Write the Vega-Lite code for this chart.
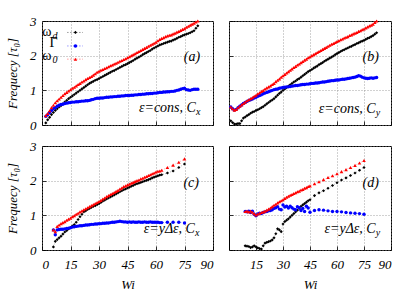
{
"$schema": "https://vega.github.io/schema/vega-lite/v6.json",
"background": "white",
"padding": {"left": 6, "top": 14, "right": 4, "bottom": 0},
"config": {
 "view": {"stroke": "black", "strokeWidth": 1},
 "font": "Liberation Serif",
 "concat": {"spacing": 14},
 "axis": {"domain": false, "grid": true, "gridColor": "#8c8c8c", "gridDash": [1, 2], "gridWidth": 0.8, "tickColor": "black", "tickSize": -4, "tickWidth": 0.8, "tickCount": 10, "format": "d", "labelOverlap": false, "labelFont": "Liberation Serif", "labelFontStyle": "italic", "labelFontSize": 13, "labelColor": "black", "titleFont": "Liberation Serif", "titleFontStyle": "italic", "titleFontWeight": "normal", "titleFontSize": 13, "titleColor": "black"},
 "text": {"font": "Liberation Serif", "color": "black"}
},
"datasets": {"pts": [
{"p":"a","x":2,"d":0.06,"g":0.25,"o":0.27},{"p":"a","x":3,"d":0.15,"g":0.3,"o":0.33},{"p":"a","x":4,"d":0.22,"g":0.36,"o":0.41},{"p":"a","x":5,"d":0.3,"g":0.42,"o":0.5},{"p":"a","x":6,"d":0.36,"g":0.47,"o":0.57},{"p":"a","x":7,"d":0.42,"g":0.5,"o":0.64},{"p":"a","x":8,"d":0.47,"g":0.54,"o":0.7},{"p":"a","x":9,"d":0.52,"g":0.57,"o":0.75},{"p":"a","x":10,"d":0.56,"g":0.59,"o":0.8},{"p":"a","x":11,"d":0.61,"g":0.6,"o":0.85},{"p":"a","x":12,"d":0.66,"g":0.62,"o":0.9},{"p":"a","x":13,"d":0.71,"g":0.63,"o":0.94},{"p":"a","x":14,"d":0.76,"g":0.64,"o":0.98},{"p":"a","x":15,"d":0.8,"g":0.65,"o":1.02},{"p":"a","x":16,"d":0.84,"g":0.66,"o":1.06},{"p":"a","x":17,"d":0.88,"g":0.66,"o":1.09},{"p":"a","x":18,"d":0.92,"g":0.67,"o":1.13},{"p":"a","x":19,"d":0.96,"g":0.67,"o":1.17},{"p":"a","x":20,"d":1.0,"g":0.68,"o":1.2},{"p":"a","x":21,"d":1.04,"g":0.69,"o":1.24},{"p":"a","x":22,"d":1.08,"g":0.69,"o":1.27},{"p":"a","x":23,"d":1.12,"g":0.7,"o":1.31},{"p":"a","x":24,"d":1.16,"g":0.7,"o":1.34},{"p":"a","x":25,"d":1.2,"g":0.71,"o":1.37},{"p":"a","x":26,"d":1.23,"g":0.73,"o":1.4},{"p":"a","x":27,"d":1.26,"g":0.74,"o":1.44},{"p":"a","x":28,"d":1.29,"g":0.76,"o":1.48},{"p":"a","x":29,"d":1.31,"g":0.77,"o":1.52},{"p":"a","x":30,"d":1.34,"g":0.77,"o":1.55},{"p":"a","x":31,"d":1.37,"g":0.78,"o":1.58},{"p":"a","x":32,"d":1.4,"g":0.78,"o":1.6},{"p":"a","x":33,"d":1.43,"g":0.79,"o":1.63},{"p":"a","x":34,"d":1.46,"g":0.8,"o":1.65},{"p":"a","x":35,"d":1.49,"g":0.8,"o":1.68},{"p":"a","x":36,"d":1.52,"g":0.81,"o":1.71},{"p":"a","x":37,"d":1.55,"g":0.81,"o":1.73},{"p":"a","x":38,"d":1.57,"g":0.82,"o":1.76},{"p":"a","x":39,"d":1.6,"g":0.82,"o":1.78},{"p":"a","x":40,"d":1.63,"g":0.83,"o":1.81},{"p":"a","x":41,"d":1.66,"g":0.83,"o":1.84},{"p":"a","x":42,"d":1.69,"g":0.84,"o":1.86},{"p":"a","x":43,"d":1.72,"g":0.84,"o":1.89},{"p":"a","x":44,"d":1.74,"g":0.85,"o":1.91},{"p":"a","x":45,"d":1.77,"g":0.85,"o":1.94},{"p":"a","x":46,"d":1.8,"g":0.85,"o":1.97},{"p":"a","x":47,"d":1.83,"g":0.86,"o":2.0},{"p":"a","x":48,"d":1.86,"g":0.86,"o":2.03},{"p":"a","x":49,"d":1.9,"g":0.87,"o":2.06},{"p":"a","x":50,"d":1.93,"g":0.87,"o":2.09},{"p":"a","x":51,"d":1.96,"g":0.88,"o":2.12},{"p":"a","x":52,"d":1.99,"g":0.88,"o":2.15},{"p":"a","x":53,"d":2.03,"g":0.89,"o":2.18},{"p":"a","x":54,"d":2.06,"g":0.89,"o":2.21},{"p":"a","x":55,"d":2.09,"g":0.9,"o":2.24},{"p":"a","x":56,"d":2.12,"g":0.9,"o":2.27},{"p":"a","x":57,"d":2.15,"g":0.91,"o":2.3},{"p":"a","x":58,"d":2.19,"g":0.91,"o":2.33},{"p":"a","x":59,"d":2.22,"g":0.92,"o":2.36},{"p":"a","x":60,"d":2.25,"g":0.92,"o":2.39},{"p":"a","x":61,"d":2.28,"g":0.93,"o":2.43},{"p":"a","x":62,"d":2.31,"g":0.94,"o":2.47},{"p":"a","x":63,"d":2.33,"g":0.94,"o":2.5},{"p":"a","x":64,"d":2.35,"g":0.95,"o":2.52},{"p":"a","x":65,"d":2.37,"g":0.95,"o":2.55},{"p":"a","x":66,"d":2.39,"g":0.96,"o":2.57},{"p":"a","x":67,"d":2.41,"g":0.96,"o":2.59},{"p":"a","x":68,"d":2.42,"g":0.97,"o":2.6},{"p":"a","x":69,"d":2.45,"g":0.97,"o":2.63},{"p":"a","x":70,"d":2.47,"g":0.98,"o":2.65},{"p":"a","x":71,"d":2.5,"g":1.0,"o":2.68},{"p":"a","x":72,"d":2.53,"g":1.01,"o":2.7},{"p":"a","x":73,"d":2.55,"g":1.03,"o":2.73},{"p":"a","x":74,"d":2.58,"g":1.05,"o":2.76},{"p":"a","x":75,"d":2.6,"g":1.06,"o":2.78},{"p":"a","x":76,"d":2.62,"g":1.02,"o":2.82},{"p":"a","x":77,"d":2.64,"g":1.01,"o":2.85},{"p":"a","x":78,"d":2.66,"g":1.0,"o":2.88},{"p":"a","x":79,"d":2.69,"g":1.02,"o":2.91},{"p":"a","x":80,"d":2.72,"g":1.03,"o":2.94},{"p":"a","x":81,"d":2.79,"g":1.03,"o":2.97},{"p":"a","x":82,"d":2.86,"g":1.03,"o":3.0},
{"p":"b","x":1,"d":0.12,"g":0.52,"o":0.52},{"p":"b","x":2,"d":0.07,"g":0.47,"o":0.47},{"p":"b","x":3,"d":0.03,"g":0.43,"o":0.43},{"p":"b","x":4,"d":0.03,"g":0.45,"o":0.45},{"p":"b","x":5,"d":0.04,"g":0.5,"o":0.5},{"p":"b","x":6,"d":0.04,"g":0.54,"o":0.54},{"p":"b","x":7,"d":0.12,"g":0.58,"o":0.58},{"p":"b","x":8,"d":0.2,"g":0.62,"o":0.62},{"p":"b","x":9,"d":0.23,"g":0.65,"o":0.66},{"p":"b","x":10,"d":0.27,"g":0.68,"o":0.7},{"p":"b","x":11,"d":0.3,"g":0.71,"o":0.73},{"p":"b","x":12,"d":0.34,"g":0.73,"o":0.76},{"p":"b","x":13,"d":0.37,"g":0.75,"o":0.79},{"p":"b","x":14,"d":0.39,"g":0.78,"o":0.83},{"p":"b","x":15,"d":0.42,"g":0.8,"o":0.86},{"p":"b","x":16,"d":0.44,"g":0.83,"o":0.9},{"p":"b","x":17,"d":0.47,"g":0.85,"o":0.93},{"p":"b","x":18,"d":0.5,"g":0.87,"o":0.97},{"p":"b","x":19,"d":0.53,"g":0.9,"o":1.0},{"p":"b","x":20,"d":0.57,"g":0.92,"o":1.04},{"p":"b","x":21,"d":0.61,"g":0.94,"o":1.07},{"p":"b","x":22,"d":0.65,"g":0.96,"o":1.1},{"p":"b","x":23,"d":0.69,"g":0.98,"o":1.13},{"p":"b","x":24,"d":0.72,"g":1.0,"o":1.17},{"p":"b","x":25,"d":0.76,"g":1.02,"o":1.2},{"p":"b","x":26,"d":0.81,"g":1.03,"o":1.25},{"p":"b","x":27,"d":0.86,"g":1.04,"o":1.29},{"p":"b","x":28,"d":0.91,"g":1.06,"o":1.33},{"p":"b","x":29,"d":0.95,"g":1.07,"o":1.38},{"p":"b","x":30,"d":1.0,"g":1.08,"o":1.42},{"p":"b","x":31,"d":1.04,"g":1.09,"o":1.46},{"p":"b","x":32,"d":1.08,"g":1.1,"o":1.5},{"p":"b","x":33,"d":1.12,"g":1.1,"o":1.54},{"p":"b","x":34,"d":1.16,"g":1.11,"o":1.58},{"p":"b","x":35,"d":1.2,"g":1.12,"o":1.62},{"p":"b","x":36,"d":1.24,"g":1.13,"o":1.66},{"p":"b","x":37,"d":1.27,"g":1.14,"o":1.69},{"p":"b","x":38,"d":1.31,"g":1.14,"o":1.73},{"p":"b","x":39,"d":1.34,"g":1.15,"o":1.76},{"p":"b","x":40,"d":1.38,"g":1.16,"o":1.8},{"p":"b","x":41,"d":1.42,"g":1.17,"o":1.83},{"p":"b","x":42,"d":1.46,"g":1.17,"o":1.87},{"p":"b","x":43,"d":1.5,"g":1.18,"o":1.9},{"p":"b","x":44,"d":1.54,"g":1.18,"o":1.94},{"p":"b","x":45,"d":1.57,"g":1.19,"o":1.97},{"p":"b","x":46,"d":1.6,"g":1.2,"o":2.0},{"p":"b","x":47,"d":1.64,"g":1.2,"o":2.03},{"p":"b","x":48,"d":1.67,"g":1.21,"o":2.06},{"p":"b","x":49,"d":1.7,"g":1.21,"o":2.09},{"p":"b","x":50,"d":1.74,"g":1.22,"o":2.12},{"p":"b","x":51,"d":1.77,"g":1.23,"o":2.15},{"p":"b","x":52,"d":1.8,"g":1.24,"o":2.18},{"p":"b","x":53,"d":1.84,"g":1.24,"o":2.21},{"p":"b","x":54,"d":1.87,"g":1.25,"o":2.24},{"p":"b","x":55,"d":1.9,"g":1.26,"o":2.27},{"p":"b","x":56,"d":1.93,"g":1.27,"o":2.3},{"p":"b","x":57,"d":1.96,"g":1.28,"o":2.33},{"p":"b","x":58,"d":1.99,"g":1.28,"o":2.35},{"p":"b","x":59,"d":2.03,"g":1.29,"o":2.38},{"p":"b","x":60,"d":2.06,"g":1.3,"o":2.41},{"p":"b","x":61,"d":2.09,"g":1.3,"o":2.43},{"p":"b","x":62,"d":2.12,"g":1.31,"o":2.46},{"p":"b","x":63,"d":2.15,"g":1.32,"o":2.48},{"p":"b","x":64,"d":2.17,"g":1.32,"o":2.51},{"p":"b","x":65,"d":2.2,"g":1.33,"o":2.53},{"p":"b","x":66,"d":2.22,"g":1.34,"o":2.55},{"p":"b","x":67,"d":2.25,"g":1.35,"o":2.58},{"p":"b","x":68,"d":2.27,"g":1.36,"o":2.6},{"p":"b","x":69,"d":2.3,"g":1.37,"o":2.63},{"p":"b","x":70,"d":2.32,"g":1.38,"o":2.65},{"p":"b","x":71,"d":2.35,"g":1.4,"o":2.67},{"p":"b","x":72,"d":2.37,"g":1.42,"o":2.7},{"p":"b","x":73,"d":2.4,"g":1.41,"o":2.72},{"p":"b","x":74,"d":2.42,"g":1.38,"o":2.75},{"p":"b","x":75,"d":2.44,"g":1.36,"o":2.77},{"p":"b","x":76,"d":2.47,"g":1.35,"o":2.8},{"p":"b","x":77,"d":2.5,"g":1.34,"o":2.83},{"p":"b","x":78,"d":2.52,"g":1.35,"o":2.86},{"p":"b","x":79,"d":2.55,"g":1.36,"o":2.88},{"p":"b","x":80,"d":2.58,"g":1.35,"o":2.91},{"p":"b","x":81,"d":2.62,"g":1.36,"o":2.96},{"p":"b","x":82,"d":2.66,"g":1.37,"o":3.0},
{"p":"c","x":6,"d":0.09,"g":0.58,"o":0.58},{"p":"c","x":7,"d":0.25,"g":0.44,"o":0.53},{"p":"c","x":8,"d":0.3,"g":0.58,"o":0.68},{"p":"c","x":9,"d":0.35,"g":0.59,"o":0.72},{"p":"c","x":10,"d":0.4,"g":0.6,"o":0.76},{"p":"c","x":11,"d":0.46,"g":0.6,"o":0.79},{"p":"c","x":12,"d":0.52,"g":0.61,"o":0.82},{"p":"c","x":13,"d":0.56,"g":0.62,"o":0.86},{"p":"c","x":14,"d":0.61,"g":0.63,"o":0.89},{"p":"c","x":15,"d":0.65,"g":0.64,"o":0.92},{"p":"c","x":16,"d":0.69,"g":0.66,"o":0.96},{"p":"c","x":17,"d":0.73,"g":0.67,"o":0.99},{"p":"c","x":18,"d":0.8,"g":0.68,"o":1.03},{"p":"c","x":19,"d":0.88,"g":0.69,"o":1.06},{"p":"c","x":20,"d":0.96,"g":0.7,"o":1.1},{"p":"c","x":21,"d":1.03,"g":0.7,"o":1.13},{"p":"c","x":22,"d":1.1,"g":0.71,"o":1.16},{"p":"c","x":23,"d":1.13,"g":0.72,"o":1.19},{"p":"c","x":24,"d":1.17,"g":0.72,"o":1.22},{"p":"c","x":25,"d":1.2,"g":0.73,"o":1.25},{"p":"c","x":26,"d":1.23,"g":0.74,"o":1.28},{"p":"c","x":27,"d":1.26,"g":0.74,"o":1.31},{"p":"c","x":28,"d":1.28,"g":0.75,"o":1.34},{"p":"c","x":29,"d":1.31,"g":0.75,"o":1.37},{"p":"c","x":30,"d":1.34,"g":0.76,"o":1.4},{"p":"c","x":31,"d":1.37,"g":0.76,"o":1.43},{"p":"c","x":32,"d":1.41,"g":0.77,"o":1.47},{"p":"c","x":33,"d":1.44,"g":0.77,"o":1.5},{"p":"c","x":34,"d":1.47,"g":0.78,"o":1.54},{"p":"c","x":35,"d":1.5,"g":0.78,"o":1.57},{"p":"c","x":36,"d":1.53,"g":0.79,"o":1.6},{"p":"c","x":37,"d":1.56,"g":0.8,"o":1.63},{"p":"c","x":38,"d":1.59,"g":0.8,"o":1.66},{"p":"c","x":39,"d":1.62,"g":0.81,"o":1.69},{"p":"c","x":40,"d":1.65,"g":0.82,"o":1.72},{"p":"c","x":41,"d":1.68,"g":0.83,"o":1.76},{"p":"c","x":42,"d":1.71,"g":0.82,"o":1.79},{"p":"c","x":43,"d":1.74,"g":0.81,"o":1.83},{"p":"c","x":44,"d":1.76,"g":0.81,"o":1.85},{"p":"c","x":45,"d":1.79,"g":0.8,"o":1.88},{"p":"c","x":46,"d":1.81,"g":0.81,"o":1.9},{"p":"c","x":47,"d":1.84,"g":0.8,"o":1.93},{"p":"c","x":48,"d":1.86,"g":0.81,"o":1.95},{"p":"c","x":49,"d":1.89,"g":0.8,"o":1.98},{"p":"c","x":50,"d":1.91,"g":0.8,"o":2.0},{"p":"c","x":51,"d":1.93,"g":0.81,"o":2.02},{"p":"c","x":52,"d":1.95,"g":0.8,"o":2.05},{"p":"c","x":53,"d":1.97,"g":0.8,"o":2.07},{"p":"c","x":54,"d":1.99,"g":0.81,"o":2.1},{"p":"c","x":55,"d":2.01,"g":0.8,"o":2.12},{"p":"c","x":56,"d":2.03,"g":0.8,"o":2.15},{"p":"c","x":57,"d":2.05,"g":0.81,"o":2.17},{"p":"c","x":58,"d":2.08,"g":0.8,"o":2.2},{"p":"c","x":59,"d":2.1,"g":0.8,"o":2.22},{"p":"c","x":60,"d":2.12,"g":0.8,"o":2.25},{"p":"c","x":61,"d":2.14,"g":0.8,"o":2.27},{"p":"c","x":62,"d":2.16,"g":0.79,"o":2.28},{"p":"c","x":63,"d":2.17,"g":0.79,"o":2.3},{"p":"c","x":66,"d":2.22,"g":0.8,"o":2.38},{"p":"c","x":69,"d":2.28,"g":0.8,"o":2.45},{"p":"c","x":72,"d":2.38,"g":0.8,"o":2.53},{"p":"c","x":75,"d":2.48,"g":0.78,"o":2.63},
{"p":"d","x":9,"d":0.12,"g":1.11,"o":1.11},{"p":"d","x":10,"d":0.11,"g":1.1,"o":1.12},{"p":"d","x":11,"d":0.1,"g":1.12,"o":1.1},{"p":"d","x":12,"d":0.07,"g":1.08,"o":1.12},{"p":"d","x":13,"d":0.09,"g":1.12,"o":1.09},{"p":"d","x":14,"d":0.12,"g":1.03,"o":1.05},{"p":"d","x":15,"d":0.09,"g":0.99,"o":1.01},{"p":"d","x":16,"d":0.06,"g":1.04,"o":1.04},{"p":"d","x":17,"d":0.04,"g":1.06,"o":1.06},{"p":"d","x":18,"d":0.03,"g":1.05,"o":1.08},{"p":"d","x":19,"d":0.12,"g":1.08,"o":1.1},{"p":"d","x":20,"d":0.2,"g":1.1,"o":1.12},{"p":"d","x":21,"d":0.22,"g":1.11,"o":1.15},{"p":"d","x":22,"d":0.24,"g":1.13,"o":1.18},{"p":"d","x":23,"d":0.26,"g":1.14,"o":1.21},{"p":"d","x":24,"d":0.29,"g":1.16,"o":1.25},{"p":"d","x":25,"d":0.35,"g":1.2,"o":1.29},{"p":"d","x":26,"d":0.47,"g":1.22,"o":1.32},{"p":"d","x":27,"d":0.61,"g":1.25,"o":1.36},{"p":"d","x":28,"d":0.58,"g":1.18,"o":1.39},{"p":"d","x":29,"d":0.53,"g":1.16,"o":1.42},{"p":"d","x":30,"d":0.75,"g":1.3,"o":1.45},{"p":"d","x":31,"d":0.82,"g":1.24,"o":1.49},{"p":"d","x":32,"d":0.86,"g":1.26,"o":1.52},{"p":"d","x":33,"d":0.9,"g":1.21,"o":1.55},{"p":"d","x":34,"d":0.95,"g":1.26,"o":1.58},{"p":"d","x":35,"d":1.0,"g":1.22,"o":1.6},{"p":"d","x":36,"d":1.05,"g":1.18,"o":1.63},{"p":"d","x":37,"d":1.1,"g":1.16,"o":1.65},{"p":"d","x":38,"d":1.15,"g":1.25,"o":1.68},{"p":"d","x":39,"d":1.2,"g":1.22,"o":1.7},{"p":"d","x":40,"d":1.26,"g":1.14,"o":1.73},{"p":"d","x":41,"d":1.3,"g":1.2,"o":1.75},{"p":"d","x":42,"d":1.34,"g":1.11,"o":1.78},{"p":"d","x":43,"d":1.38,"g":1.26,"o":1.8},{"p":"d","x":44,"d":1.42,"g":1.21,"o":1.83},{"p":"d","x":45,"d":1.45,"g":1.09,"o":1.85},{"p":"d","x":47.5,"d":1.57,"g":1.14,"o":1.91},{"p":"d","x":50,"d":1.65,"g":1.16,"o":1.97},{"p":"d","x":52.5,"d":1.71,"g":1.15,"o":2.03},{"p":"d","x":55,"d":1.78,"g":1.13,"o":2.09},{"p":"d","x":57.5,"d":1.86,"g":1.11,"o":2.14},{"p":"d","x":60,"d":1.94,"g":1.11,"o":2.2},{"p":"d","x":62.5,"d":2.02,"g":1.1,"o":2.26},{"p":"d","x":65,"d":2.08,"g":1.08,"o":2.32},{"p":"d","x":67.5,"d":2.15,"g":1.07,"o":2.38},{"p":"d","x":70,"d":2.22,"g":1.06,"o":2.44},{"p":"d","x":72.5,"d":2.3,"g":1.05,"o":2.51},{"p":"d","x":75,"d":2.38,"g":1.03,"o":2.58}
]},
"spacing": 6,
"vconcat": [
{"hconcat": [
 {"width": 171, "height": 104, "layer": [
  {"data": {"name": "pts"}, "transform": [{"filter": "datum.p === 'a'"}, {"fold": ["d", "g", "o"], "as": ["s", "v"]}],
   "mark": {"type": "line", "strokeWidth": 0.6, "strokeDash": [1, 1.5], "opacity": 0.5},
   "encoding": {
    "x": {"field": "x", "type": "quantitative", "scale": {"domain": [0, 90], "nice": false}, "axis": {"values": [0, 15, 30, 45, 60, 75, 90], "labels": false, "title": null}},
    "y": {"field": "v", "type": "quantitative", "scale": {"domain": [0, 3], "nice": false}, "axis": {"values": [0, 1, 2, 3], "title": "Frequecy [τ₀]", "labelPadding": 10, "titlePadding": 10}},
    "color": {"field": "s", "type": "nominal", "scale": {"domain": ["d", "g", "o"], "range": ["#000000", "#0000ff", "#ff0000"]}, "legend": null}}},
  {"data": {"name": "pts"}, "transform": [{"filter": "datum.p === 'a'"}, {"fold": ["d", "g", "o"], "as": ["s", "v"]}],
   "mark": {"type": "point", "filled": true, "opacity": 1},
   "encoding": {
    "x": {"field": "x", "type": "quantitative"},
    "y": {"field": "v", "type": "quantitative"},
    "color": {"field": "s", "type": "nominal", "legend": null},
    "shape": {"field": "s", "type": "nominal", "scale": {"domain": ["d", "g", "o"], "range": ["diamond", "circle", "triangle-up"]}, "legend": null},
    "size": {"field": "s", "type": "nominal", "scale": {"domain": ["d", "g", "o"], "range": [10, 13, 12]}, "legend": null},
    "order": {"field": "s", "type": "ordinal"}}},
  {"data": {"values": [{}]}, "mark": {"type": "text", "text": "(a)", "align": "right", "baseline": "middle", "fontSize": 14, "fontStyle": "italic"}, "encoding": {"x": {"datum": 83.2, "type": "quantitative"}, "y": {"datum": 1.96, "type": "quantitative"}}},
  {"data": {"values": [{}]}, "mark": {"type": "text", "text": "ε=cons, C", "align": "right", "baseline": "middle", "fontSize": 14, "fontStyle": "italic"}, "encoding": {"x": {"datum": 81, "type": "quantitative"}, "y": {"datum": 0.49, "type": "quantitative"}}},
  {"data": {"values": [{}]}, "mark": {"type": "text", "text": "x", "align": "left", "baseline": "middle", "fontSize": 10, "fontStyle": "italic", "dy": 4}, "encoding": {"x": {"datum": 81, "type": "quantitative"}, "y": {"datum": 0.49, "type": "quantitative"}}},
  {"data": {"values": [{}]}, "mark": {"type": "rule", "color": "#000000", "strokeDash": [1.5, 1.5], "strokeWidth": 0.8, "opacity": 0.5}, "encoding": {"x": {"datum": 13.2, "type": "quantitative"}, "x2": {"datum": 21.5}, "y": {"datum": 2.67, "type": "quantitative"}}},
  {"data": {"values": [{}]}, "mark": {"type": "rule", "color": "#0000ff", "strokeDash": [1.5, 1.5], "strokeWidth": 0.8, "opacity": 0.5}, "encoding": {"x": {"datum": 13.2, "type": "quantitative"}, "x2": {"datum": 21.5}, "y": {"datum": 2.28, "type": "quantitative"}}},
  {"data": {"values": [{}]}, "mark": {"type": "rule", "color": "#ff0000", "strokeDash": [1.5, 1.5], "strokeWidth": 0.8, "opacity": 0.5}, "encoding": {"x": {"datum": 13.2, "type": "quantitative"}, "x2": {"datum": 21.5}, "y": {"datum": 1.9, "type": "quantitative"}}},
  {"data": {"values": [{}]}, "mark": {"type": "point", "shape": "diamond", "filled": true, "color": "#000000", "size": 10, "opacity": 1}, "encoding": {"x": {"datum": 17.6, "type": "quantitative"}, "y": {"datum": 2.67, "type": "quantitative"}}},
  {"data": {"values": [{}]}, "mark": {"type": "point", "shape": "circle", "filled": true, "color": "#0000ff", "size": 13, "opacity": 1}, "encoding": {"x": {"datum": 17.6, "type": "quantitative"}, "y": {"datum": 2.28, "type": "quantitative"}}},
  {"data": {"values": [{}]}, "mark": {"type": "point", "shape": "triangle-up", "filled": true, "color": "#ff0000", "size": 12, "opacity": 1}, "encoding": {"x": {"datum": 17.6, "type": "quantitative"}, "y": {"datum": 1.9, "type": "quantitative"}}},
  {"data": {"values": [{}]}, "mark": {"type": "text", "text": "ω", "align": "right", "baseline": "middle", "fontSize": 14, "dx": -6}, "encoding": {"x": {"datum": 8.2, "type": "quantitative"}, "y": {"datum": 2.68, "type": "quantitative"}}},
  {"data": {"values": [{}]}, "mark": {"type": "text", "text": "d", "align": "right", "baseline": "middle", "fontSize": 10, "fontStyle": "italic", "dy": 4}, "encoding": {"x": {"datum": 8.2, "type": "quantitative"}, "y": {"datum": 2.68, "type": "quantitative"}}},
  {"data": {"values": [{}]}, "mark": {"type": "text", "text": "Γ", "align": "right", "baseline": "middle", "fontSize": 14}, "encoding": {"x": {"datum": 8.2, "type": "quantitative"}, "y": {"datum": 2.37, "type": "quantitative"}}},
  {"data": {"values": [{}]}, "mark": {"type": "text", "text": "ω", "align": "right", "baseline": "middle", "fontSize": 14, "dx": -6}, "encoding": {"x": {"datum": 8.2, "type": "quantitative"}, "y": {"datum": 1.98, "type": "quantitative"}}},
  {"data": {"values": [{}]}, "mark": {"type": "text", "text": "0", "align": "right", "baseline": "middle", "fontSize": 10, "fontStyle": "italic", "dy": 4}, "encoding": {"x": {"datum": 8.2, "type": "quantitative"}, "y": {"datum": 1.98, "type": "quantitative"}}}
 ]},
 {"width": 162, "height": 104, "layer": [
  {"data": {"name": "pts"}, "transform": [{"filter": "datum.p === 'b'"}, {"fold": ["d", "g", "o"], "as": ["s", "v"]}],
   "mark": {"type": "line", "strokeWidth": 0.6, "strokeDash": [1, 1.5], "opacity": 0.5},
   "encoding": {
    "x": {"field": "x", "type": "quantitative", "scale": {"domain": [0, 90], "nice": false}, "axis": {"values": [0, 15, 30, 45, 60, 75, 90], "labels": false, "title": null}},
    "y": {"field": "v", "type": "quantitative", "scale": {"domain": [0, 3], "nice": false}, "axis": {"values": [0, 1, 2, 3], "labels": false, "title": null}},
    "color": {"field": "s", "type": "nominal", "scale": {"domain": ["d", "g", "o"], "range": ["#000000", "#0000ff", "#ff0000"]}, "legend": null}}},
  {"data": {"name": "pts"}, "transform": [{"filter": "datum.p === 'b'"}, {"fold": ["d", "g", "o"], "as": ["s", "v"]}],
   "mark": {"type": "point", "filled": true, "opacity": 1},
   "encoding": {
    "x": {"field": "x", "type": "quantitative"},
    "y": {"field": "v", "type": "quantitative"},
    "color": {"field": "s", "type": "nominal", "legend": null},
    "shape": {"field": "s", "type": "nominal", "scale": {"domain": ["d", "g", "o"], "range": ["diamond", "circle", "triangle-up"]}, "legend": null},
    "size": {"field": "s", "type": "nominal", "scale": {"domain": ["d", "g", "o"], "range": [10, 13, 12]}, "legend": null},
    "order": {"field": "s", "type": "ordinal"}}},
  {"data": {"values": [{}]}, "mark": {"type": "text", "text": "(b)", "align": "right", "baseline": "middle", "fontSize": 14, "fontStyle": "italic"}, "encoding": {"x": {"datum": 83.3, "type": "quantitative"}, "y": {"datum": 1.96, "type": "quantitative"}}},
  {"data": {"values": [{}]}, "mark": {"type": "text", "text": "ε=cons, C", "align": "right", "baseline": "middle", "fontSize": 14, "fontStyle": "italic"}, "encoding": {"x": {"datum": 81.5, "type": "quantitative"}, "y": {"datum": 0.47, "type": "quantitative"}}},
  {"data": {"values": [{}]}, "mark": {"type": "text", "text": "y", "align": "left", "baseline": "middle", "fontSize": 10, "fontStyle": "italic", "dy": 4}, "encoding": {"x": {"datum": 81.5, "type": "quantitative"}, "y": {"datum": 0.47, "type": "quantitative"}}}
 ]}
]},
{"hconcat": [
 {"width": 171, "height": 104, "layer": [
  {"data": {"name": "pts"}, "transform": [{"filter": "datum.p === 'c'"}, {"fold": ["d", "g", "o"], "as": ["s", "v"]}],
   "mark": {"type": "line", "strokeWidth": 0.6, "strokeDash": [1, 1.5], "opacity": 0.5},
   "encoding": {
    "x": {"field": "x", "type": "quantitative", "scale": {"domain": [0, 90], "nice": false}, "axis": {"values": [0, 15, 30, 45, 60, 75, 90], "title": "Wi", "labelPadding": 12.5, "titlePadding": 7}},
    "y": {"field": "v", "type": "quantitative", "scale": {"domain": [0, 3], "nice": false}, "axis": {"values": [0, 1, 2, 3], "title": "Frequecy [τ₀]", "labelPadding": 10, "titlePadding": 10}},
    "color": {"field": "s", "type": "nominal", "scale": {"domain": ["d", "g", "o"], "range": ["#000000", "#0000ff", "#ff0000"]}, "legend": null}}},
  {"data": {"name": "pts"}, "transform": [{"filter": "datum.p === 'c'"}, {"fold": ["d", "g", "o"], "as": ["s", "v"]}],
   "mark": {"type": "point", "filled": true, "opacity": 1},
   "encoding": {
    "x": {"field": "x", "type": "quantitative"},
    "y": {"field": "v", "type": "quantitative"},
    "color": {"field": "s", "type": "nominal", "legend": null},
    "shape": {"field": "s", "type": "nominal", "scale": {"domain": ["d", "g", "o"], "range": ["diamond", "circle", "triangle-up"]}, "legend": null},
    "size": {"field": "s", "type": "nominal", "scale": {"domain": ["d", "g", "o"], "range": [10, 13, 12]}, "legend": null},
    "order": {"field": "s", "type": "ordinal"}}},
  {"data": {"values": [{}]}, "mark": {"type": "text", "text": "(c)", "align": "right", "baseline": "middle", "fontSize": 14, "fontStyle": "italic"}, "encoding": {"x": {"datum": 82.6, "type": "quantitative"}, "y": {"datum": 1.93, "type": "quantitative"}}},
  {"data": {"values": [{}]}, "mark": {"type": "text", "text": "ε=yΔε, C", "align": "right", "baseline": "middle", "fontSize": 14, "fontStyle": "italic"}, "encoding": {"x": {"datum": 80.5, "type": "quantitative"}, "y": {"datum": 0.6, "type": "quantitative"}}},
  {"data": {"values": [{}]}, "mark": {"type": "text", "text": "x", "align": "left", "baseline": "middle", "fontSize": 10, "fontStyle": "italic", "dy": 4}, "encoding": {"x": {"datum": 80.5, "type": "quantitative"}, "y": {"datum": 0.6, "type": "quantitative"}}}
 ]},
 {"width": 162, "height": 104, "layer": [
  {"data": {"name": "pts"}, "transform": [{"filter": "datum.p === 'd'"}, {"fold": ["d", "g", "o"], "as": ["s", "v"]}],
   "mark": {"type": "line", "strokeWidth": 0.6, "strokeDash": [1, 1.5], "opacity": 0.5},
   "encoding": {
    "x": {"field": "x", "type": "quantitative", "scale": {"domain": [0, 90], "nice": false}, "axis": {"values": [15, 30, 45, 60, 75, 90], "title": "Wi", "labelPadding": 12.5, "titlePadding": 7}},
    "y": {"field": "v", "type": "quantitative", "scale": {"domain": [0, 3], "nice": false}, "axis": {"values": [0, 1, 2, 3], "labels": false, "title": null}},
    "color": {"field": "s", "type": "nominal", "scale": {"domain": ["d", "g", "o"], "range": ["#000000", "#0000ff", "#ff0000"]}, "legend": null}}},
  {"data": {"name": "pts"}, "transform": [{"filter": "datum.p === 'd'"}, {"fold": ["d", "g", "o"], "as": ["s", "v"]}],
   "mark": {"type": "point", "filled": true, "opacity": 1},
   "encoding": {
    "x": {"field": "x", "type": "quantitative"},
    "y": {"field": "v", "type": "quantitative"},
    "color": {"field": "s", "type": "nominal", "legend": null},
    "shape": {"field": "s", "type": "nominal", "scale": {"domain": ["d", "g", "o"], "range": ["diamond", "circle", "triangle-up"]}, "legend": null},
    "size": {"field": "s", "type": "nominal", "scale": {"domain": ["d", "g", "o"], "range": [10, 13, 12]}, "legend": null},
    "order": {"field": "s", "type": "ordinal"}}},
  {"data": {"values": [{}]}, "mark": {"type": "text", "text": "(d)", "align": "right", "baseline": "middle", "fontSize": 14, "fontStyle": "italic"}, "encoding": {"x": {"datum": 83.3, "type": "quantitative"}, "y": {"datum": 1.93, "type": "quantitative"}}},
  {"data": {"values": [{}]}, "mark": {"type": "text", "text": "ε=yΔε, C", "align": "right", "baseline": "middle", "fontSize": 14, "fontStyle": "italic"}, "encoding": {"x": {"datum": 81.5, "type": "quantitative"}, "y": {"datum": 0.6, "type": "quantitative"}}},
  {"data": {"values": [{}]}, "mark": {"type": "text", "text": "y", "align": "left", "baseline": "middle", "fontSize": 10, "fontStyle": "italic", "dy": 4}, "encoding": {"x": {"datum": 81.5, "type": "quantitative"}, "y": {"datum": 0.6, "type": "quantitative"}}}
 ]}
]}
]
}
